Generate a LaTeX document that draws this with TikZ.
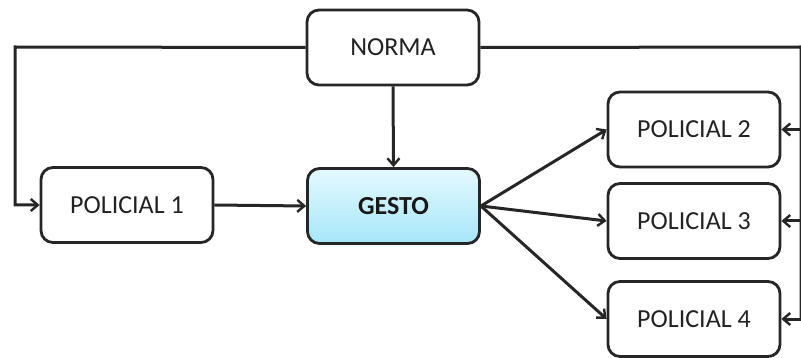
\documentclass[tikz,border=0pt]{standalone}
\usepackage{fontspec}
\setmainfont{Carlito}
\usetikzlibrary{arrows.meta}
\definecolor{txtc}{HTML}{222222}
\definecolor{gtop}{HTML}{E4F9FF}
\definecolor{gbot}{HTML}{A6E6F8}
\tikzset{
  box/.style={draw=black!85, line width=2.8pt, rounded corners=12pt, minimum width=172pt, minimum height=75pt, inner sep=0pt, font=\fontsize{26}{30}\selectfont, text=txtc},
  conn/.style={line width=3pt, draw=black!85, -{Straight Barb[length=7pt,width=12pt,line width=2.4pt]}},
  plain/.style={line width=3pt, draw=black!85}
}
\begin{document}
\begin{tikzpicture}[x=1pt,y=-1pt]
\useasboundingbox (0,0) rectangle (801,358);
\node[box] (norma) at (393,47.5) {NORMA};
\node[box] (p1) at (127,205) {POLICIAL 1};
\node[box, top color=gtop, bottom color=gbot, font=\fontsize{26}{30}\selectfont\bfseries, text=black!90] (gesto) at (393.5,206) {GESTO};
\node[box] (p2) at (694,129.5) {POLICIAL 2};
\node[box] (p3) at (694,221) {POLICIAL 3};
\node[box] (p4) at (694,319) {POLICIAL 4};
\coordinate (lc) at (15,47);
\coordinate (rc) at (801,47);
\draw[conn] (norma.west) -- (lc) |- (p1.west);
\draw[plain] (norma.east) -- (rc) -- (rc |- p4.east);
\draw[conn] (rc |- p2.east) -- (p2.east);
\draw[conn] (rc |- p3.east) -- (p3.east);
\draw[conn] (rc |- p4.east) -- (p4.east);
\draw[conn] (norma.south) -- (gesto.north);
\draw[conn] (p1.east) -- (gesto.west);
\draw[conn] (gesto.east) -- (p2.west);
\draw[conn] (gesto.east) -- (p3.west);
\draw[conn] (gesto.east) -- (p4.west);
\end{tikzpicture}
\end{document}
